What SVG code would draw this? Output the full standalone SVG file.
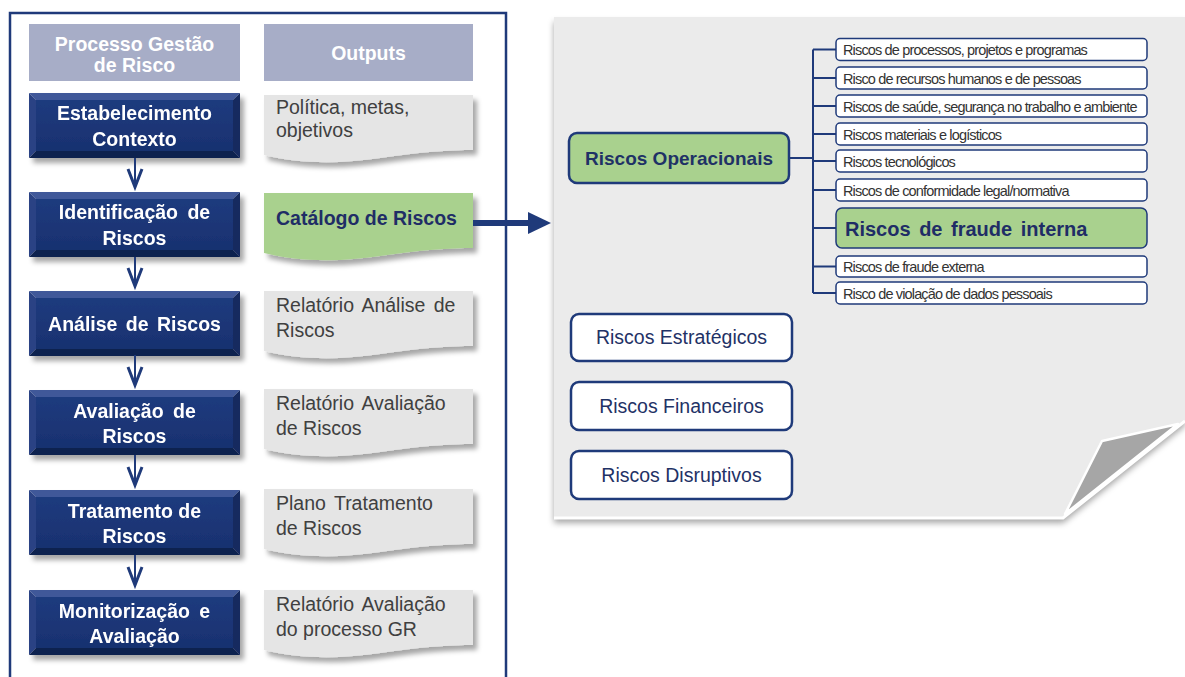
<svg xmlns="http://www.w3.org/2000/svg" width="1185" height="677" viewBox="0 0 1185 677">
<style>
text{font-family:"Liberation Sans",Arial,sans-serif}
.hdr{fill:#a7adc7}
.hdrt{fill:#fff;font-weight:bold;font-size:19.5px;text-anchor:middle}
.pt{fill:#fff;font-weight:bold;font-size:19.5px;text-anchor:middle}
.face{fill:url(#gface)}
.bt{fill:#3f5899}.bl{fill:#2a4384}.br{fill:#132a5f}.bb{fill:#0e2250}
.doc{fill:#e5e5e5;filter:url(#sh)}
.docg{fill:#a9d18e;filter:url(#sh)}
.ot{fill:#404040;font-size:19.5px}
.og{fill:#1f2d66;font-size:19.5px;font-weight:bold}
.conn{stroke:#1f3a7a;stroke-width:2;fill:none}
.chev{stroke:#1f3a7a;stroke-width:3;fill:none;stroke-linejoin:miter}
.item{fill:#fff;stroke:#1f3a7a;stroke-width:1.5}
.it{fill:#333;font-size:14.5px;letter-spacing:-0.85px}
.cat{fill:#fff;stroke:#1f3a7a;stroke-width:2.5}
.catt{fill:#1f3266;font-size:19.5px;text-anchor:middle}
</style>
<defs>
<linearGradient id="gface" x1="0" y1="0" x2="0" y2="1"><stop offset="0" stop-color="#1f3b7e"/><stop offset="1" stop-color="#183170"/></linearGradient>
<filter id="sh" x="-10%" y="-10%" width="130%" height="140%"><feDropShadow dx="4" dy="5" stdDeviation="2.5" flood-color="#000" flood-opacity="0.35"/></filter>
<filter id="psh" x="-5%" y="-5%" width="110%" height="115%"><feDropShadow dx="0" dy="5" stdDeviation="3" flood-color="#000" flood-opacity="0.35"/></filter>
<g id="bevel">
<polygon class="bt" points="0,0 211,0 204,7 7,7"/>
<polygon class="bl" points="0,0 7,7 7,58 0,65"/>
<polygon class="br" points="211,0 211,65 204,58 204,7"/>
<polygon class="bb" points="0,65 7,58 204,58 211,65"/>
<rect class="face" x="7" y="7" width="197" height="51"/>
</g>
</defs>
<rect width="1185" height="677" fill="#fff"/>

<g id="left-frame">
<rect x="10" y="13" width="496" height="700" fill="#fff" stroke="#1f3a7a" stroke-width="2.5"/>
</g>

<g id="header-process"><rect class="hdr" x="29" y="24" width="211" height="57"/><text class="hdrt" x="134.5" y="51">Processo Gestão</text><text class="hdrt" x="134.5" y="72">de Risco</text></g>
<g id="header-outputs"><rect class="hdr" x="264" y="24" width="209" height="57"/><text class="hdrt" x="368.5" y="60">Outputs</text></g>

<g id="p1" filter="url(#sh)"><use href="#bevel" x="29" y="93"/><text class="pt" x="134.5" y="120">Estabelecimento</text><text class="pt" x="134.5" y="146">Contexto</text></g>
<g id="p2" filter="url(#sh)"><use href="#bevel" x="29" y="192"/><text class="pt" x="134.5" y="219" word-spacing="4">Identificação de</text><text class="pt" x="134.5" y="245">Riscos</text></g>
<g id="p3" filter="url(#sh)"><use href="#bevel" x="29" y="291"/><text class="pt" x="134.5" y="331" word-spacing="3">Análise de Riscos</text></g>
<g id="p4" filter="url(#sh)"><use href="#bevel" x="29" y="390"/><text class="pt" x="134.5" y="418" word-spacing="4">Avaliação de</text><text class="pt" x="134.5" y="443">Riscos</text></g>
<g id="p5" filter="url(#sh)"><use href="#bevel" x="29" y="490"/><text class="pt" x="134.5" y="518">Tratamento de</text><text class="pt" x="134.5" y="543">Riscos</text></g>
<g id="p6" filter="url(#sh)"><use href="#bevel" x="29" y="590"/><text class="pt" x="134.5" y="618" word-spacing="4">Monitorização e</text><text class="pt" x="134.5" y="643">Avaliação</text></g>

<g id="o1"><path class="doc" d="M264,95 H473 V150 C450,150 420,152 380,158 C340,164 300,164 264,155 Z"/><text class="ot" x="276" y="114">Política, metas,</text><text class="ot" x="276" y="137">objetivos</text></g>
<g id="o2"><path class="docg" d="M264,193 H473 V248 C450,248 420,250 380,256 C340,262 300,262 264,253 Z"/><text class="og" x="276" y="225">Catálogo de Riscos</text></g>
<g id="o3"><path class="doc" d="M264,291 H473 V346 C450,346 420,348 380,354 C340,360 300,360 264,351 Z"/><text class="ot" x="276" y="312" word-spacing="3">Relatório Análise de</text><text class="ot" x="276" y="337">Riscos</text></g>
<g id="o4"><path class="doc" d="M264,389 H473 V444 C450,444 420,446 380,452 C340,458 300,458 264,449 Z"/><text class="ot" x="276" y="410" word-spacing="3">Relatório Avaliação</text><text class="ot" x="276" y="435">de Riscos</text></g>
<g id="o5"><path class="doc" d="M264,489 H473 V544 C450,544 420,546 380,552 C340,558 300,558 264,549 Z"/><text class="ot" x="276" y="510" word-spacing="3">Plano Tratamento</text><text class="ot" x="276" y="535">de Riscos</text></g>
<g id="o6"><path class="doc" d="M264,590 H473 V645 C450,645 420,647 380,653 C340,659 300,659 264,650 Z"/><text class="ot" x="276" y="611" word-spacing="3">Relatório Avaliação</text><text class="ot" x="276" y="636">do processo GR</text></g>

<g id="page">
<polygon points="554,17 1185,17 1185,421 1063,518 554,518" fill="#ebebeb" filter="url(#psh)"/>
<polyline points="554,518 1063,518 1185,421" fill="none" stroke="#fff" stroke-width="3"/>
<polygon points="1065,514 1102,441 1178,424" fill="#a6a6a6" stroke="#fff" stroke-width="2.5" stroke-linejoin="round"/>
</g>

<g id="connectors">
<g class="conn">
<line x1="135" y1="158" x2="135" y2="187"/>
<line x1="135" y1="257" x2="135" y2="286"/>
<line x1="135" y1="355" x2="135" y2="385"/>
<line x1="135" y1="455" x2="135" y2="485"/>
<line x1="135" y1="555" x2="135" y2="585"/>
</g>
<g class="chev">
<polyline points="128,169 135,187 142,169"/>
<polyline points="128,268 135,286 142,268"/>
<polyline points="128,367 135,385 142,367"/>
<polyline points="128,467 135,485 142,467"/>
<polyline points="128,567 135,585 142,567"/>
</g>
<line x1="473" y1="223" x2="531" y2="223" stroke="#1f3a7a" stroke-width="6"/>
<polygon points="528,212 551,223 528,234" fill="#1f3a7a"/>
<g class="conn">
<line x1="789" y1="158" x2="813" y2="158"/>
<line x1="813" y1="49.5" x2="813" y2="293"/>
<line x1="813" y1="49.5" x2="836" y2="49.5"/>
<line x1="813" y1="78" x2="836" y2="78"/>
<line x1="813" y1="106" x2="836" y2="106"/>
<line x1="813" y1="134" x2="836" y2="134"/>
<line x1="813" y1="161" x2="836" y2="161"/>
<line x1="813" y1="190" x2="836" y2="190"/>
<line x1="813" y1="228" x2="836" y2="228"/>
<line x1="813" y1="266.5" x2="836" y2="266.5"/>
<line x1="813" y1="293" x2="836" y2="293"/>
</g>
</g>

<g id="riscos-operacionais"><rect x="569" y="133" width="220" height="50" rx="8" fill="#a9d18e" stroke="#1f3a7a" stroke-width="2.5"/><text x="679" y="165" fill="#1f3266" font-size="19px" font-weight="bold" text-anchor="middle">Riscos Operacionais</text></g>

<g id="i1"><rect class="item" x="836" y="38.5" width="311" height="22" rx="4"/><text class="it" x="843" y="55">Riscos de processos, projetos e programas</text></g>
<g id="i2"><rect class="item" x="836" y="67" width="311" height="22" rx="4"/><text class="it" x="843" y="83.5">Risco de recursos humanos e de pessoas</text></g>
<g id="i3"><rect class="item" x="836" y="95" width="311" height="22" rx="4"/><text class="it" x="843" y="111.5">Riscos de saúde, segurança no trabalho e ambiente</text></g>
<g id="i4"><rect class="item" x="836" y="123" width="311" height="22" rx="4"/><text class="it" x="843" y="139.5">Riscos materiais  e logísticos</text></g>
<g id="i5"><rect class="item" x="836" y="150" width="311" height="22" rx="4"/><text class="it" x="843" y="166.5">Riscos tecnológicos</text></g>
<g id="i6"><rect class="item" x="836" y="179" width="311" height="22" rx="4"/><text class="it" x="843" y="195.5">Riscos de conformidade legal/normativa</text></g>
<g id="i7"><rect x="836" y="208" width="311" height="40" rx="6" fill="#a9d18e" stroke="#1f3a7a" stroke-width="1.5"/><text x="845" y="235.5" fill="#1f2d66" font-size="20px" font-weight="bold" word-spacing="3">Riscos de fraude interna</text></g>
<g id="i8"><rect class="item" x="836" y="256" width="311" height="21" rx="4"/><text class="it" x="843" y="272">Riscos de fraude externa</text></g>
<g id="i9"><rect class="item" x="836" y="282" width="311" height="22" rx="4"/><text class="it" x="843" y="298.5">Risco de violação de dados pessoais</text></g>

<g id="riscos-estrategicos"><rect class="cat" x="571" y="314" width="221" height="47" rx="8"/><text class="catt" x="681.5" y="344">Riscos Estratégicos</text></g>
<g id="riscos-financeiros"><rect class="cat" x="571" y="382" width="221" height="48" rx="8"/><text class="catt" x="681.5" y="413">Riscos Financeiros</text></g>
<g id="riscos-disruptivos"><rect class="cat" x="571" y="451" width="221" height="48" rx="8"/><text class="catt" x="681.5" y="482">Riscos Disruptivos</text></g>
</svg>
